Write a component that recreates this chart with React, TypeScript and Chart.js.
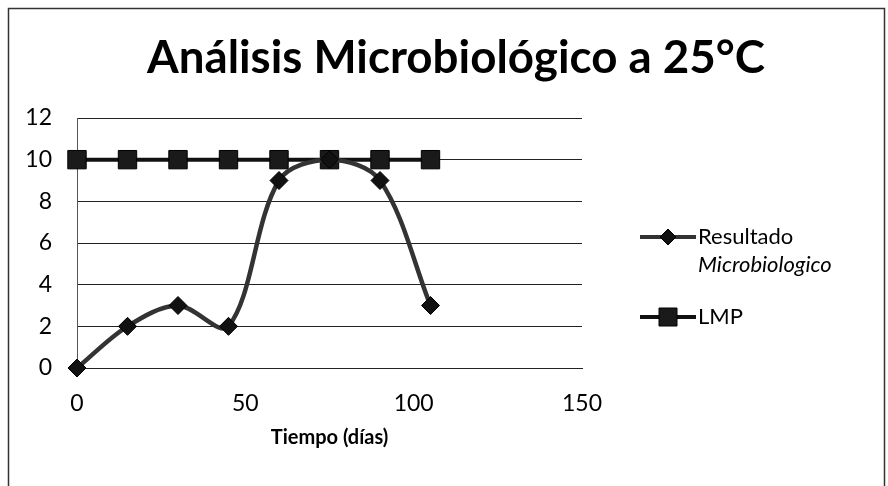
import { useEffect, useRef } from "react";
import { Chart, registerables } from "chart.js";

Chart.register(...registerables);

const days = [0, 15, 30, 45, 60, 75, 90, 105];
const resultado = [0, 2, 3, 2, 9, 10, 9, 3];
const lmp = [10, 10, 10, 10, 10, 10, 10, 10];
const seriesNames = ["Resultado Microbiologico", "LMP"];
const legendLines = [
  [
    { text: "Resultado", italic: false },
    { text: "Microbiologico", italic: true },
  ],
  [{ text: "LMP", italic: false }],
];
const chartTitle = "Análisis Microbiológico a 25°C";
const xAxisTitle = "Tiempo (días)";
const xMin = 0;
const xMax = 150;
const xStep = 50;
const yMin = 0;
const yMax = 12;
const yStep = 2;

const FONT = "Lato, 'Open Sans', 'Noto Sans', sans-serif";

const framePlugin = {
  id: "frame",
  beforeDraw(chart: any) {
    const ctx = chart.ctx;
    ctx.save();
    ctx.fillStyle = "#fff";
    ctx.fillRect(0, 0, chart.width, chart.height);
    ctx.strokeStyle = "#333";
    ctx.lineWidth = 1.5;
    ctx.strokeRect(8.5, 8.5, 876, 490);
    ctx.restore();
  },
};

const titlePlugin = {
  id: "bigTitle",
  afterDraw(chart: any) {
    const ctx = chart.ctx;
    ctx.save();
    ctx.font = `bold 40px ${FONT}`;
    const w = ctx.measureText(chartTitle).width;
    const size = Math.min(48, (40 * 618) / w);
    ctx.font = `bold ${size}px ${FONT}`;
    ctx.fillStyle = "#000";
    ctx.textAlign = "center";
    ctx.textBaseline = "alphabetic";
    ctx.fillText(chartTitle, 456, 73);
    ctx.restore();
  },
};

const legendPlugin = {
  id: "sideLegend",
  afterDraw(chart: any) {
    const ctx = chart.ctx;
    const rows = [237, 317];
    ctx.save();
    chart.data.datasets.forEach((ds: any, i: number) => {
      const y = rows[i];
      ctx.strokeStyle = ds.borderColor;
      ctx.lineWidth = 4;
      ctx.beginPath();
      ctx.moveTo(640, y);
      ctx.lineTo(696, y);
      ctx.stroke();
      ctx.fillStyle = ds.pointBackgroundColor;
      ctx.strokeStyle = "#000";
      ctx.lineWidth = 1;
      ctx.beginPath();
      if (ds.pointStyle === "rectRot") {
        const r = 8;
        ctx.moveTo(668 - r, y);
        ctx.lineTo(668, y - r);
        ctx.lineTo(668 + r, y);
        ctx.lineTo(668, y + r);
        ctx.closePath();
      } else {
        ctx.rect(668 - 9, y - 9, 18, 18);
      }
      ctx.fill();
      ctx.stroke();
      ctx.fillStyle = "#000";
      ctx.textAlign = "left";
      ctx.textBaseline = "middle";
      legendLines[i].forEach((ln, j) => {
        ctx.font = `${ln.italic ? "italic " : ""}22px ${FONT}`;
        ctx.fillText(ln.text, 698, y + j * 28);
      });
    });
    ctx.restore();
  },
};

export default function App() {
  const ref = useRef<HTMLCanvasElement | null>(null);
  useEffect(() => {
    document.body.style.margin = "0";
    if (!ref.current) return;
    const chart = new Chart(ref.current, {
      type: "line",
      data: {
        datasets: [
          {
            label: seriesNames[0],
            data: days.map((d, i) => ({ x: d, y: resultado[i] })),
            borderColor: "#333",
            borderWidth: 4.5,
            tension: 0.33,
            clip: false,
            pointStyle: "rectRot",
            pointRadius: 9,
            pointBackgroundColor: "#111",
            pointBorderColor: "#000",
            pointBorderWidth: 1,
          },
          {
            label: seriesNames[1],
            data: days.map((d, i) => ({ x: d, y: lmp[i] })),
            borderColor: "#111",
            borderWidth: 4,
            tension: 0,
            clip: false,
            pointStyle: "rect",
            pointRadius: 13,
            pointBackgroundColor: "#1a1a1a",
            pointBorderColor: "#000",
            pointBorderWidth: 1,
          },
        ],
      },
      options: {
        responsive: false,
        animation: false,
        layout: { padding: { left: 0, right: 306, top: 118, bottom: 36 } },
        plugins: {
          legend: { display: false },
          title: { display: false },
          tooltip: { enabled: false },
        },
        scales: {
          x: {
            type: "linear",
            min: xMin,
            max: xMax,
            ticks: {
              stepSize: xStep,
              color: "#000",
              padding: 22,
              font: { family: FONT, size: 23 },
            },
            grid: { display: false, drawTicks: false },
            border: { display: true, color: "#222", width: 1 },
            title: {
              display: true,
              text: xAxisTitle,
              color: "#000",
              padding: { top: 0, bottom: 0 },
              font: { family: FONT, size: 20, weight: "bold" },
            },
            afterFit(scale: any) {
              scale.height = 82;
            },
          },
          y: {
            min: yMin,
            max: yMax,
            ticks: {
              stepSize: yStep,
              color: "#000",
              padding: 25,
              font: { family: FONT, size: 23 },
            },
            grid: { color: "#222", lineWidth: 1, drawTicks: false },
            border: { display: true, color: "#555", width: 1 },
            afterFit(scale: any) {
              scale.width = 77;
            },
          },
        },
      },
      plugins: [framePlugin, titlePlugin, legendPlugin],
    });
    return () => chart.destroy();
  }, []);
  return (
    <div style={{ width: 888, height: 486 }}>
      <canvas ref={ref} width={888} height={486} style={{ display: "block" }} />
    </div>
  );
}
